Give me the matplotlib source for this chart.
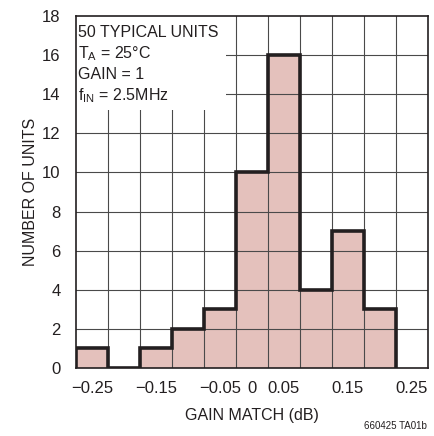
import numpy as np
import matplotlib
matplotlib.use("Agg")
import matplotlib.pyplot as plt

# ヒストグラムのデータ
bin_edges = [-0.275, -0.225, -0.175, -0.125, -0.075, -0.025, 0.025, 0.075, 0.125, 0.175, 0.225]
counts = [1, 0, 1, 2, 3, 10, 16, 4, 7, 3]
x_ticks = [-0.25, -0.15, -0.05, 0, 0.05, 0.15, 0.25]
x_tick_labels = ["\u22120.25", "\u22120.15", "\u22120.05", "0", "0.05", "0.15", "0.25"]
y_ticks = [0, 2, 4, 6, 8, 10, 12, 14, 16, 18]
info_lines = ["50 TYPICAL UNITS", r"T$_\mathregular{A}$ = 25°C", "GAIN = 1",
              r"f$_\mathregular{IN}$ = 2.5MHz"]

plt.rcParams['font.family'] = ['Liberation Sans Narrow', 'Liberation Sans', 'DejaVu Sans']
FS = 11.5
INK = "#231f20"

fig = plt.figure(figsize=(4.34, 4.36), dpi=100)
ax = fig.add_axes([76 / 434, 68 / 436, 352 / 434, 352 / 436])

# 塗りつぶし
ax.stairs(counts, bin_edges, fill=True, color="#e4c1bc", zorder=1, linewidth=0)

# グリッド
for xe in np.arange(-0.225, 0.226, 0.05):
    ax.axvline(xe, color="#4a4a4a", linewidth=0.8, zorder=2)
for yv in y_ticks[1:-1]:
    ax.axhline(yv, color="#4a4a4a", linewidth=0.8, zorder=2)

# 外形線
ax.stairs(counts, bin_edges, fill=False, color=INK, linewidth=2.6,
          baseline=0, zorder=4)

ax.set_xlim(-0.275, 0.275)
ax.set_ylim(0, 18)
ax.set_xticks(x_ticks)
ax.set_xticklabels(x_tick_labels)
ax.set_yticks(y_ticks)
ax.tick_params(length=0, labelsize=FS + 0.5, colors=INK, pad=9)
ax.tick_params(axis="y", pad=11)

for sp in ax.spines.values():
    sp.set_color(INK)
    sp.set_linewidth(1.2)
    sp.set_zorder(5)

# 条件テキストの白い背景
ax.add_patch(plt.Rectangle((-0.275, 13.2), (226 - 76) / 352 * 0.55, 18 - 13.2,
                           facecolor="white", edgecolor="none", zorder=3))

for i, line in enumerate(info_lines):
    ax.text(-0.2715, 17.15 - i * 1.07, line, fontsize=FS, color=INK,
            va="center", ha="left", zorder=6)

ax.set_xlabel("GAIN MATCH (dB)", fontsize=FS, color=INK, labelpad=9)
ax.set_ylabel("NUMBER OF UNITS", fontsize=FS, color=INK, labelpad=3)

fig.text(427 / 434, 1 - 426 / 436, "660425 TA01b", fontsize=7, color=INK,
         ha="right", va="center")

fig.savefig("out.png", dpi=100)
